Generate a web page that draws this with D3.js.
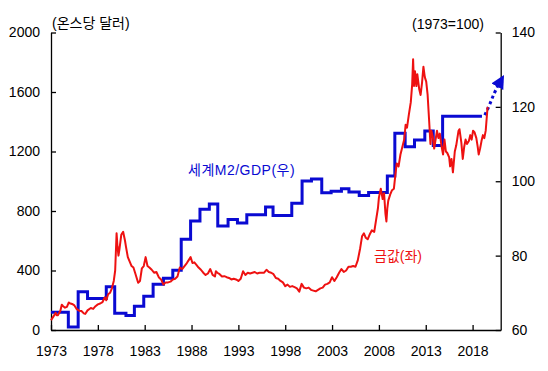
<!DOCTYPE html>
<html>
<head>
<meta charset="utf-8">
<script src="https://cdn.jsdelivr.net/npm/d3@7"></script>
<style>
  body { margin: 0; background: #fff; }
  svg { display: block; }
  .axis text { font-family: "Liberation Sans", Arial, sans-serif; font-size: 14px; fill: #000; }
  .axis path, .axis line { stroke: #000; stroke-width: 1.3; }
  .label { font-family: "Liberation Sans", Arial, "Noto Sans CJK KR", sans-serif; font-size: 14px; }
</style>
</head>
<body>
<div id="chart"></div>
<script>
// Tick labels
const xTicks = [1973, 1978, 1983, 1988, 1993, 1998, 2003, 2008, 2013, 2018];
const leftTicks = [0, 400, 800, 1200, 1600, 2000];
const rightTicks = [60, 80, 100, 120, 140];

// Gold price (USD per ounce), left axis
const goldYears = [
    1973.0, 1973.25, 1973.5, 1973.6, 1973.75, 1974.0, 1974.15, 1974.3, 1974.5, 1974.7, 1974.9,
    1975.0, 1975.25, 1975.5, 1975.75, 1976.0, 1976.25, 1976.5, 1976.65, 1976.9, 1977.25, 1977.5,
    1977.75, 1978.0, 1978.25, 1978.5, 1978.75, 1978.9, 1979.1, 1979.3, 1979.5, 1979.7, 1979.85,
    1980.0, 1980.1, 1980.2, 1980.3, 1980.5, 1980.7, 1980.8, 1980.9, 1981.0, 1981.2, 1981.4,
    1981.6, 1981.8, 1982.0, 1982.3, 1982.5, 1982.7, 1982.9, 1983.1, 1983.3, 1983.5, 1983.75,
    1984.0, 1984.25, 1984.5, 1984.75, 1985.0, 1985.25, 1985.5, 1985.75, 1986.0, 1986.25, 1986.5,
    1986.75, 1987.0, 1987.25, 1987.5, 1987.75, 1987.9, 1988.1, 1988.3, 1988.5, 1988.75, 1989.0,
    1989.25, 1989.5, 1989.75, 1990.0, 1990.25, 1990.5, 1990.6, 1990.75, 1991.0, 1991.25, 1991.5,
    1991.75, 1992.0, 1992.25, 1992.5, 1992.75, 1993.0, 1993.25, 1993.5, 1993.75, 1994.0, 1994.25,
    1994.5, 1994.75, 1995.0, 1995.25, 1995.5, 1995.75, 1996.0, 1996.25, 1996.5, 1996.75, 1997.0,
    1997.25, 1997.5, 1997.75, 1998.0, 1998.25, 1998.5, 1998.75, 1999.0, 1999.25, 1999.5, 1999.75,
    2000.0, 2000.25, 2000.5, 2000.75, 2001.0, 2001.25, 2001.5, 2001.75, 2002.0, 2002.25, 2002.5,
    2002.75, 2003.0, 2003.25, 2003.5, 2003.75, 2004.0, 2004.25, 2004.5, 2004.75, 2005.0, 2005.25,
    2005.5, 2005.75, 2006.0, 2006.2, 2006.4, 2006.6, 2006.8, 2007.0, 2007.25, 2007.5, 2007.7,
    2007.9, 2008.0, 2008.2, 2008.4, 2008.55, 2008.7, 2008.8, 2008.9, 2009.0, 2009.2, 2009.4,
    2009.6, 2009.75, 2009.9, 2010.1, 2010.3, 2010.5, 2010.7, 2010.85, 2011.0, 2011.2, 2011.4,
    2011.55, 2011.65, 2011.75, 2011.85, 2012.0, 2012.1, 2012.3, 2012.45, 2012.6, 2012.75, 2012.9,
    2013.05, 2013.2, 2013.35, 2013.5, 2013.6, 2013.75, 2013.9, 2014.1, 2014.2, 2014.35, 2014.5,
    2014.7, 2014.85, 2015.0, 2015.15, 2015.3, 2015.5, 2015.6, 2015.75, 2015.9, 2016.1, 2016.25,
    2016.5, 2016.6, 2016.8, 2016.95, 2017.1, 2017.25, 2017.4, 2017.6, 2017.75, 2017.9, 2018.05,
    2018.2, 2018.4, 2018.55, 2018.65, 2018.8, 2018.95, 2019.1, 2019.25, 2019.4, 2019.5, 2019.6
];
const goldValues = [
    65, 90, 115, 100, 100, 130, 170, 160, 150, 155, 185,
    180, 175, 165, 140, 130, 128, 112, 108, 132, 148, 142,
    160, 172, 178, 188, 220, 200, 240, 250, 280, 330, 400,
    650, 560, 500, 540, 640, 660, 630, 600, 560, 490, 460,
    430, 420, 380, 318, 330, 415, 430, 490, 430, 420, 405,
    385, 390, 355, 340, 305, 320, 320, 325, 340, 345, 360,
    420, 410, 430, 450, 475, 490, 450, 455, 440, 420, 405,
    385, 370, 380, 410, 370, 360, 395, 385, 375, 360, 362,
    355, 350, 340, 345, 340, 330, 345, 395, 370, 385, 380,
    385, 390, 380, 385, 385, 385, 405, 390, 385, 375, 350,
    345, 330, 320, 295, 305, 290, 295, 288, 280, 258, 310,
    285, 280, 285, 270, 265, 260, 270, 280, 285, 305, 310,
    320, 355, 330, 355, 385, 410, 390, 400, 425, 425, 430,
    425, 470, 550, 630, 650, 620, 610, 640, 670, 660, 740,
    820, 890, 950, 880, 920, 780, 730, 820, 870, 910, 940,
    950, 1040, 1120, 1100, 1180, 1230, 1280, 1380, 1360, 1450, 1530,
    1650, 1820, 1640, 1740, 1640, 1720, 1620, 1580, 1660, 1770, 1700,
    1670, 1580, 1420, 1250, 1340, 1300, 1220, 1300, 1340, 1290, 1320,
    1230, 1180, 1280, 1200, 1190, 1160, 1100, 1150, 1060, 1200, 1240,
    1340, 1350, 1260, 1150, 1230, 1280, 1250, 1270, 1310, 1280, 1340,
    1330, 1290, 1230, 1180, 1220, 1270, 1310, 1290, 1340, 1420, 1500
];

// World M2/GDP (1973=100), right axis, step changes
const m2Years = [
    1973.0, 1974.85, 1975.9, 1976.9, 1978.9, 1979.8, 1981.0, 1981.9, 1982.9, 1983.9,
    1985.0, 1986.0, 1986.9, 1987.9, 1988.9, 1989.9, 1990.8, 1991.9, 1992.9, 1993.9,
    1995.9, 1996.7, 1998.7, 1999.8, 2000.8, 2001.9, 2002.9, 2004.0, 2004.8, 2005.9,
    2006.9, 2008.9, 2009.7, 2010.8, 2011.8, 2012.9, 2013.8, 2014.8, 2019.0
];
const m2Values = [
    64.8, 60.8, 70.3, 68.5, 71.6, 64.5, 63.9, 66.4, 69.1, 72.3,
    73.9, 76.1, 84.4, 89.3, 92.5, 93.9, 88.0, 89.7, 88.8, 91.0,
    93.1, 90.8, 94.1, 100.1, 100.6, 96.9, 97.3, 98.0, 97.1, 96.2,
    97.0, 101.4, 112.9, 109.3, 111.1, 113.5, 109.6, 117.5, 117.5
];

// Projection (dotted arrow)
const projYears = [2019.3, 2019.8, 2020.3, 2021.0];
const projValues = [117.8, 120.5, 123.6, 127.0];

const width = 548;
const height = 371;
const margin = { top: 32.5, right: 47.3, bottom: 41, left: 51 };

const blue = '#0a0ad2';
const red = '#ee1111';

const svg = d3.select('#chart')
    .append('svg')
    .attr('width', width)
    .attr('height', height);

const x = d3.scaleLinear()
    .domain([1973, 2021])
    .range([margin.left, width - margin.right]);

const yL = d3.scaleLinear()
    .domain([0, 2000])
    .range([height - margin.bottom, margin.top]);

const yR = d3.scaleLinear()
    .domain([60, 140])
    .range([height - margin.bottom, margin.top]);

// Axes (ticks point inward)
svg.append('g')
    .attr('class', 'axis')
    .attr('transform', `translate(0,${height - margin.bottom})`)
    .call(d3.axisBottom(x).tickValues(xTicks).tickFormat(d3.format('d'))
        .tickSizeInner(-5).tickSizeOuter(0).tickPadding(16));

svg.append('g')
    .attr('class', 'axis')
    .attr('transform', `translate(${margin.left},0)`)
    .call(d3.axisLeft(yL).tickValues(leftTicks).tickFormat(d3.format('d'))
        .tickSizeInner(-5).tickSizeOuter(0).tickPadding(11));

svg.append('g')
    .attr('class', 'axis')
    .attr('transform', `translate(${width - margin.right},0)`)
    .call(d3.axisRight(yR).tickValues(rightTicks)
        .tickSizeInner(-5).tickSizeOuter(0).tickPadding(11));

// M2/GDP step line
const m2Data = m2Years.map((d, i) => ({ year: d, value: m2Values[i] }));
svg.append('path')
    .datum(m2Data)
    .attr('fill', 'none')
    .attr('stroke', blue)
    .attr('stroke-width', 3)
    .attr('d', d3.line()
        .x(d => x(d.year))
        .y(d => yR(d.value))
        .curve(d3.curveStepAfter));

// Dotted projection with arrowhead
svg.append('defs').append('marker')
    .attr('id', 'arrow')
    .attr('viewBox', '0 0 10 10')
    .attr('refX', 5)
    .attr('refY', 5)
    .attr('markerWidth', 4.5)
    .attr('markerHeight', 4.5)
    .attr('markerUnits', 'strokeWidth')
    .attr('orient', 'auto')
    .append('path')
    .attr('d', 'M0,0 L10,5 L0,10 z')
    .attr('fill', blue);

const projData = projYears.map((d, i) => ({ year: d, value: projValues[i] }));
svg.append('path')
    .datum(projData)
    .attr('fill', 'none')
    .attr('stroke', blue)
    .attr('stroke-width', 3)
    .attr('stroke-dasharray', '3,3')
    .attr('marker-end', 'url(#arrow)')
    .attr('d', d3.line()
        .x(d => x(d.year))
        .y(d => yR(d.value))
        .curve(d3.curveMonotoneX));

// Gold price line
const goldData = goldYears.map((d, i) => ({ year: d, value: goldValues[i] }));
svg.append('path')
    .datum(goldData)
    .attr('fill', 'none')
    .attr('stroke', red)
    .attr('stroke-width', 2)
    .attr('stroke-linejoin', 'round')
    .attr('d', d3.line()
        .x(d => x(d.year))
        .y(d => yL(d.value)));

// Labels
svg.append('text')
    .attr('class', 'label')
    .attr('x', 52)
    .attr('y', 28)
    .text('(온스당 달러)');

svg.append('text')
    .attr('class', 'label')
    .attr('x', 484)
    .attr('y', 29)
    .attr('text-anchor', 'end')
    .text('(1973=100)');

svg.append('text')
    .attr('class', 'label')
    .attr('x', 188)
    .attr('y', 175)
    .attr('fill', blue)
    .style('letter-spacing', '0.5px')
    .text('세계M2/GDP(우)');

svg.append('text')
    .attr('class', 'label')
    .attr('x', 374)
    .attr('y', 261)
    .attr('fill', red)
    .text('금값(좌)');
</script>
</body>
</html>
